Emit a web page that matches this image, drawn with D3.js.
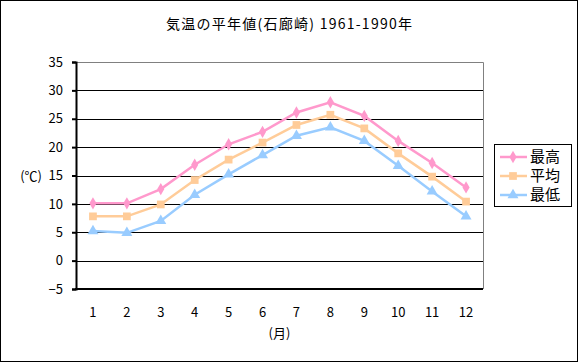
<!DOCTYPE html>
<html>
<head>
<meta charset="utf-8">
<script src="https://cdn.jsdelivr.net/npm/d3@7"></script>
<style>
  body { margin: 0; background: #fff; }
  text { font-family: "Noto Sans CJK JP", "Liberation Sans", sans-serif; font-size: 13px; fill: #000; }
</style>
</head>
<body>
<svg id="chart" width="578" height="362"></svg>
<script>
// data
var months = [1, 2, 3, 4, 5, 6, 7, 8, 9, 10, 11, 12]
var maxTemp = [10.1, 10.1, 12.6, 16.9, 20.5, 22.7, 26.1, 27.9, 25.5, 21.1, 17.2, 12.9]
var avgTemp = [7.8, 7.8, 9.9, 14.2, 17.8, 20.8, 23.9, 25.7, 23.3, 18.9, 14.8, 10.4]
var minTemp = [5.2, 4.9, 7.0, 11.6, 15.2, 18.6, 22.0, 23.5, 21.1, 16.7, 12.2, 7.8]
var yTicks = [-5, 0, 5, 10, 15, 20, 25, 30, 35]
var seriesNames = ["最高", "平均", "最低"]
var title = "気温の平年値(石廊崎) 1961-1990年"

var svg = d3.select("#chart")
var margin = { left: 76, right: 483, top: 62, bottom: 289 }

// outer frame
svg.append("rect").attr("x", 0.5).attr("y", 0.5).attr("width", 577).attr("height", 361)
    .attr("fill", "#fff").attr("stroke", "#000")

var xScale = d3.scaleBand().domain(months).range([margin.left, margin.right])
var yScale = d3.scaleLinear().domain([-5, 35]).range([margin.bottom, margin.top])

// gridlines
svg.selectAll(".grid").data(yTicks.filter(t => t > -5 && t < 35)).join("line").attr("class", "grid")
    .attr("x1", margin.left).attr("x2", margin.right)
    .attr("y1", d => Math.round(yScale(d)) + 0.5).attr("y2", d => Math.round(yScale(d)) + 0.5)
    .attr("stroke", "#000").attr("stroke-width", 1)

// top & right border (gray)
svg.append("path")
    .attr("d", "M" + margin.left + "," + (margin.top + 0.5) + "H" + (margin.right + 0.5) + "V" + margin.bottom)
    .attr("fill", "none").attr("stroke", "#808080").attr("stroke-width", 1)

// y axis
var yAxis = d3.axisLeft(yScale).tickValues(yTicks).tickSize(4).tickPadding(9)
var gy = svg.append("g").attr("transform", "translate(" + margin.left + ",0)").call(yAxis)
gy.select(".domain").attr("stroke-width", 2)
gy.selectAll(".tick line").attr("stroke-width", 2)
gy.selectAll(".tick text").attr("font-size", 13).attr("font-family", null)
gy.selectAll(".tick text").text(d => d < 0 ? "\u2212" + Math.abs(d) : d)

// x axis: baseline line only, labels below
svg.append("line").attr("x1", margin.left - 1).attr("x2", margin.right).attr("y1", margin.bottom).attr("y2", margin.bottom)
    .attr("stroke", "#000").attr("stroke-width", 2)
svg.selectAll(".xlab").data(months).join("text").attr("class", "xlab")
    .attr("x", d => xScale(d) + xScale.bandwidth() / 2).attr("y", 317)
    .attr("text-anchor", "middle").text(d => d)

// titles
svg.append("text").attr("x", 289).attr("y", 29).attr("text-anchor", "middle")
    .style("font-size", "14px").attr("textLength", 246).attr("lengthAdjust", "spacing").text(title)
svg.append("text").attr("x", (margin.left + margin.right) / 2).attr("y", 338).attr("text-anchor", "middle").text("(月)")
svg.append("text").attr("x", 42).attr("y", yScale(15) + 5).attr("text-anchor", "end").text("(℃)")

var series = [
    { name: seriesNames[0], values: maxTemp, color: "#FF99CC", symbol: d3.symbolDiamond, size: 44 },
    { name: seriesNames[1], values: avgTemp, color: "#FFCC99", symbol: d3.symbolSquare, size: 60 },
    { name: seriesNames[2], values: minTemp, color: "#99CCFF", symbol: d3.symbolTriangle, size: 52 }
]

var line = d3.line().x((d, i) => xScale(months[i]) + xScale.bandwidth() / 2).y(d => yScale(d))

series.forEach(s => {
    var g = svg.append("g")
    g.append("path").attr("d", line(s.values)).attr("fill", "none")
        .attr("stroke", s.color).attr("stroke-width", 2.5)
    g.selectAll("path.mark").data(s.values).join("path").attr("class", "mark")
        .attr("d", d3.symbol().type(s.symbol).size(s.size))
        .attr("transform", (d, i) => "translate(" + (xScale(months[i]) + xScale.bandwidth() / 2) + "," + yScale(d) + ")")
        .attr("fill", s.color)
})

// legend
var legend = svg.append("g")
legend.append("rect").attr("x", 494.5).attr("y", 144.5).attr("width", 77).attr("height", 62)
    .attr("fill", "#fff").attr("stroke", "#000")
series.forEach((s, i) => {
    var y = 157 + i * 19
    legend.append("line").attr("x1", 500).attr("x2", 527).attr("y1", y).attr("y2", y)
        .attr("stroke", s.color).attr("stroke-width", 2.5)
    legend.append("path").attr("d", d3.symbol().type(s.symbol).size(s.size))
        .attr("transform", "translate(513," + y + ")").attr("fill", s.color)
    legend.append("text").attr("x", 530).attr("y", y + 5).style("font-size", "15px").text(s.name)
})
</script>
</body>
</html>
